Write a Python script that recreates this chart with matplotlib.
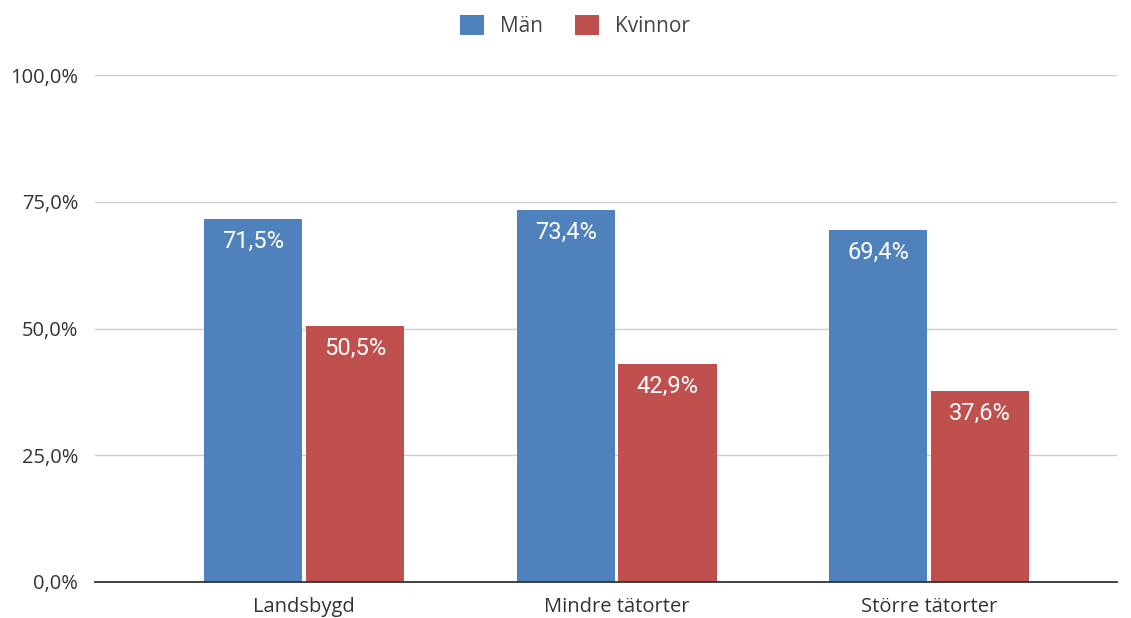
import matplotlib.pyplot as plt
import numpy as np
from matplotlib.ticker import FuncFormatter

categories = ['Landsbygd', 'Mindre tätorter', 'Större tätorter']
man = [71.5, 73.4, 69.4]
kvinnor = [50.5, 42.9, 37.6]
series_names = ['Män', 'Kvinnor']

blue = '#4F81BD'
red = '#C0504D'

plt.rcParams['font.family'] = ['Open Sans', 'DejaVu Sans']

fig = plt.figure(figsize=(11.31, 6.18), dpi=100)
ax = fig.add_axes([95 / 1131, 1 - 582 / 618, (1117 - 95) / 1131, (582 - 75) / 618])

x = np.arange(len(categories))
w = 0.314
off = 0.163
b1 = ax.bar(x - off, man, w, color=blue, label=series_names[0], zorder=3)
b2 = ax.bar(x + off, kvinnor, w, color=red, label=series_names[1], zorder=3)

# value labels inside the top of each bar
for bars, vals in [(b1, man), (b2, kvinnor)]:
    for bar, v in zip(bars, vals):
        ax.annotate(f'{v:.1f}%'.replace('.', ','),
                    (bar.get_x() + bar.get_width() / 2, v),
                    xytext=(0, -16), textcoords='offset points',
                    ha='center', va='center', color='white',
                    fontsize=17, family=['Roboto', 'DejaVu Sans'], zorder=4)

ax.set_xlim(-0.669, 2.6016)
ax.set_ylim(0, 100)
ax.set_yticks([0, 25, 50, 75, 100])
ax.yaxis.set_major_formatter(FuncFormatter(lambda v, p: f'{v:.1f}%'.replace('.', ',')))
ax.set_xticks(x)
ax.set_xticklabels(categories)
ax.grid(axis='y', color='#cccccc', linewidth=1, zorder=0)
for s in ['top', 'right', 'left']:
    ax.spines[s].set_visible(False)
ax.spines['bottom'].set_color('#333333')
ax.spines['bottom'].set_linewidth(1.3)
ax.spines['bottom'].set_zorder(5)
ax.tick_params(axis='both', length=0, labelsize=14.5, colors='#333333')
ax.tick_params(axis='y', pad=12)
ax.tick_params(axis='x', pad=11)

fig.legend(loc='center', bbox_to_anchor=(575 / 1131, 1 - 26 / 618), ncol=2,
           frameon=False, fontsize=15, handlelength=1.15, handleheight=1.15,
           columnspacing=1.54, handletextpad=0.77, labelcolor='#444444')

fig.savefig('out.png', dpi=100)
